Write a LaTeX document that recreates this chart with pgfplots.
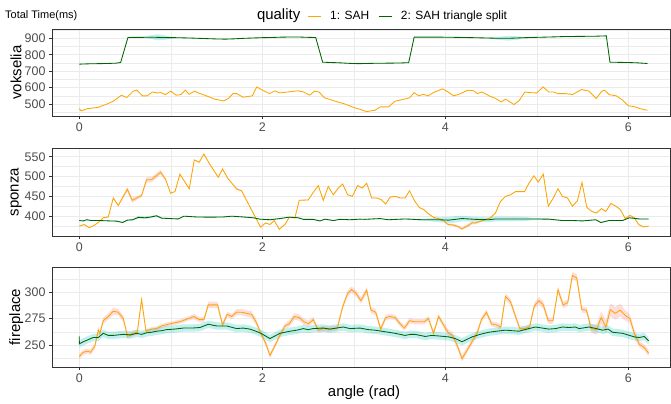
\documentclass[border=0pt]{standalone}
\usepackage{fontspec}
\setmainfont{Liberation Sans}
\usepackage{pgfplots}
\usepackage{pgfplotstable}
\pgfplotsset{compat=1.18}
\definecolor{sah}{HTML}{FFA500}
\definecolor{split}{HTML}{006400}
\definecolor{pinkrib}{HTML}{F8766D}
\definecolor{cyanrib}{HTML}{00BFC4}
\definecolor{gridc}{HTML}{EBEBEB}
\definecolor{tickc}{HTML}{4D4D4D}
\definecolor{borderc}{HTML}{333333}

% ---------- vokselia ----------
\pgfplotstableread{
x y d
0.00 471 0
0.02 457 0
0.09 471 0
0.20 478 0
0.29 496 0
0.37 516 0
0.46 553 0
0.52 539 0
0.59 578 0
0.63 584 0
0.69 549 0
0.74 549 0
0.80 573 0
0.85 567 0
0.89 569 0
0.94 557 0
1.00 578 0
1.06 553 0
1.11 557 0
1.16 584 0
1.20 559 0
1.26 578 0
1.32 563 0
1.39 549 0
1.48 529 0
1.58 518 0
1.63 533 0
1.68 563 0
1.72 563 0
1.79 541 0
1.89 549 0
1.94 604 0
2.00 584 0
2.08 563 0
2.14 580 0
2.19 567 0
2.28 573 0
2.39 580 0
2.45 573 0
2.52 553 0
2.57 578 0
2.62 573 0
2.68 537 0
2.73 529 0
2.80 516 0
2.90 500 0
3.01 476 0
3.08 465 0
3.14 453 0
3.23 461 0
3.29 482 0
3.38 482 0
3.45 516 0
3.55 529 0
3.61 537 0
3.66 569 0
3.71 549 0
3.76 559 0
3.81 549 0
3.87 569 0
3.97 592 0
4.03 573 0
4.09 549 0
4.14 557 0
4.25 584 0
4.31 580 0
4.35 563 0
4.40 573 0
4.48 549 0
4.55 533 0
4.61 512 0
4.66 529 0
4.75 496 0
4.81 522 0
4.87 573 0
4.92 569 0
5.00 567 0
5.07 604 0
5.13 573 0
5.18 573 0
5.23 563 0
5.31 563 0
5.39 557 0
5.49 588 0
5.57 578 0
5.65 533 0
5.71 578 0
5.74 584 0
5.79 557 0
5.87 549 0
5.94 522 0
6.00 488 0
6.06 484 0
6.13 471 0
6.21 461 0
}\vokA
\pgfplotstableread{
x y d
0.00 743 1
0.10 745 1
0.20 746 1
0.30 747 1
0.40 749 1
0.452 753 1
0.532 906 1
0.60 907 1
0.70 907 3
0.78 908 10
0.85 907 18
0.92 906 15
0.99 905 7
1.05 905 1
1.20 903 1
1.40 899 1
1.50 897 1
1.60 896 1
1.70 898 1
1.80 901 1
1.90 903 1
2.00 905 1
2.10 906 1
2.20 908 1
2.30 909 1
2.40 909 1
2.50 907 1
2.584 906 1
2.66 755 1
2.75 753 1
2.85 751 1
2.95 748 1
3.05 746 1
3.20 748 1
3.35 749 1
3.50 750 1
3.60 752 1
3.66 908 1
3.80 908 1
3.97 908 1
4.10 907 1
4.30 905 1
4.45 903 2
4.58 901 9
4.68 901 14
4.78 903 11
4.87 905 3
5.00 907 1
5.20 910 1
5.31 912 1
5.50 913 1
5.65 914 1
5.76 916 1
5.80 755 1
5.90 754 1
6.00 753 1
6.10 751 1
6.21 747 1
}\vokB

% ---------- sponza ----------
\pgfplotstableread{
x y d
0.000 375 1
0.055 379 1
0.109 371 1
0.164 377 1
0.219 386 1
0.262 396 1
0.317 398 1
0.372 446 1
0.426 427 2
0.525 468 6
0.579 440 6
0.681 452 4
0.736 492 7
0.790 492 7
0.889 511 6
0.944 493 3
0.998 458 1
1.046 462 1
1.100 506 1
1.202 469 1
1.257 542 1
1.311 536 1
1.362 557 1
1.421 533 1
1.519 498 1
1.566 519 1
1.621 496 1
1.719 469 2
1.774 464 2
1.982 372 1
2.036 383 1
2.084 379 1
2.131 389 1
2.186 367 1
2.248 379 1
2.295 397 1
2.357 396 1
2.404 440 1
2.503 441 1
2.557 460 1
2.612 477 1
2.667 440 1
2.721 475 1
2.776 454 1
2.831 471 1
2.878 481 1
2.933 454 1
2.984 450 1
3.042 477 2
3.093 471 1
3.141 483 1
3.196 446 1
3.250 446 1
3.298 442 1
3.349 431 1
3.397 448 1
3.452 450 1
3.506 446 1
3.561 446 1
3.609 464 1
3.664 439 1
3.715 422 1
3.762 417 1
3.817 406 1
3.872 397 1
3.927 394 1
3.982 389 2
4.029 379 2
4.084 378 3
4.128 375 3
4.183 368 3
4.238 375 4
4.293 383 4
4.336 383 3
4.395 388 2
4.446 392 1
4.494 396 1
4.548 408 1
4.603 437 1
4.658 450 1
4.713 454 1
4.768 462 1
4.815 462 1
4.867 462 1
4.914 483 1
4.969 502 1
5.016 486 1
5.071 506 1
5.126 425 1
5.181 446 1
5.232 469 1
5.280 450 1
5.335 446 1
5.390 425 1
5.444 439 1
5.494 485 1
5.547 422 1
5.601 412 1
5.653 408 1
5.707 419 1
5.755 412 1
5.810 432 1
5.865 425 1
5.912 417 1
5.967 394 1
6.018 402 1
6.066 396 1
6.113 379 1
6.165 373 1
6.223 375 1
}\spoA
\pgfplotstableread{
x y d
0.000 389 1
0.044 388 1
0.080 391 1
0.135 389 1
0.226 389 1
0.335 388 1
0.408 387.5 1
0.474 384 1
0.525 390 1
0.583 391 2
0.645 397 3
0.718 396 3
0.772 397.5 3
0.845 401 2
0.900 395 2
0.991 394 1
1.082 393 1
1.144 400 1
1.282 398 1
1.428 397.5 1
1.574 398 1
1.665 400 1
1.792 398 1
1.902 396 1
1.974 392.5 1
2.084 391 2
2.193 394 1
2.295 397.5 1
2.393 396 1
2.448 392 1
2.557 392 1
2.630 388 1
2.685 392.5 1
2.776 389 1
2.849 392 1
2.958 391 1
3.067 392.5 1
3.122 392 1
3.287 394 1
3.378 391 1
3.561 393 1
3.744 391 2
3.850 391 4
3.927 391 6
4.037 390 8
4.110 392 8
4.183 394 7
4.329 392 6
4.475 391 6
4.548 393 6
4.660 393 6
4.768 393 6
4.880 393 5
4.951 393 3
5.133 392.5 1
5.280 389 1
5.400 389 1
5.499 388 1
5.645 391 1
5.700 384 1
5.791 389 1
5.938 389 1
6.011 396 1
6.121 393 1
6.223 393 1
}\spoB

% ---------- fireplace ----------
\pgfplotstableread{
x y d
0.000 239 2.5
0.044 243 2.5
0.091 244 2.5
0.124 243 2.5
0.171 249 2.5
0.208 264 3
0.226 261 3
0.262 273 3
0.317 277 3
0.372 282 3.5
0.426 281 3
0.481 275 3
0.528 258 2.5
0.590 261 2.5
0.634 262 2.5
0.681 293 2
0.729 263 2
0.791 265 2
0.845 265.5 2
0.900 268 2
0.991 270 2
1.100 272 2
1.191 275 2
1.253 277 2.5
1.311 274 2.5
1.362 274 2.5
1.410 288 3
1.457 288 3
1.512 288 3
1.566 269 2.5
1.617 279 2.5
1.665 277 2.5
1.719 281 3
1.774 281 3
1.829 280 3
1.883 279 3.5
1.931 272 3
1.985 261 2.5
2.040 251 2.5
2.084 240 2.5
2.131 248 2.5
2.186 258 2.5
2.248 268 2.5
2.295 270 3
2.350 277 3
2.404 276 3
2.455 272 3
2.503 270 3
2.557 274 2.5
2.612 264 2.5
2.667 265.5 2.5
2.721 265 2.5
2.769 265.5 2.5
2.820 266 2.5
2.878 286 2.5
2.933 299 3
2.976 302.5 3
3.024 299 3
3.079 292 3
3.141 302 3
3.188 283 3
3.240 281 3
3.294 265 2.5
3.349 276 2.5
3.397 277 2.5
3.452 276 2.5
3.506 270 2.5
3.554 266 2.5
3.609 273 2.5
3.664 272 2.5
3.718 272 2.5
3.770 272 2.5
3.817 275 2.5
3.872 261 2.5
3.927 277 2.5
3.974 270 2.5
4.029 262 3
4.080 259 3
4.128 250 3
4.183 237 3
4.238 245 3
4.293 253 3
4.347 261 3
4.395 274 2.5
4.450 281 2.5
4.505 270 2.5
4.556 269 2.5
4.607 267 2.5
4.658 296 3
4.713 291 3
4.768 277 2.5
4.815 265.5 2.5
4.870 265.5 2.5
4.921 267 2.5
4.973 287 3
5.024 292 3.5
5.071 288 3.5
5.126 273 3
5.177 273 3
5.232 302.5 3
5.287 288 3
5.338 290 3
5.389 316 3.5
5.437 313.6 3.5
5.492 283.5 3
5.543 283 3
5.594 265.5 4
5.653 264.6 5
5.704 276 6
5.755 267 6
5.803 283.5 6
5.857 280 6
5.912 283 6
5.967 278 5
6.018 275 4
6.066 261 4
6.121 250.6 3
6.175 247.5 3
6.223 242 3
}\fireA
\pgfplotstableread{
x y d
0.000 258 3.5
0.001 251 3.5
0.044 253 3.5
0.098 255 3.5
0.153 257 3.5
0.208 257 3.5
0.262 261 3.5
0.317 259 3.5
0.372 259 3.5
0.426 259.5 3.5
0.481 260 3.5
0.560 259.5 3.5
0.627 261 3.5
0.680 260 3.5
0.736 261.5 3.5
0.790 262 3.5
0.845 263 3.5
0.900 263.5 3.5
0.954 264.5 3.5
1.040 265 3.5
1.137 266 3.5
1.230 266 3.5
1.319 266.5 3.5
1.410 269.6 3.5
1.501 268 3.5
1.610 268 3.5
1.720 265.5 3.5
1.790 266 3.5
1.865 265 3.5
1.930 263 3.5
1.985 261 3.5
2.084 256 3.5
2.193 261 3.5
2.302 263 3.5
2.380 264 3.5
2.448 265.5 3.5
2.500 264.5 3.5
2.557 265.5 3.5
2.667 266 3.5
2.740 265 3.5
2.812 266 3.5
2.885 267 3.5
2.958 265.5 3.5
3.067 266 3.5
3.159 264.5 3.5
3.230 264 3.5
3.305 263 3.5
3.380 262 3.5
3.452 261 3.5
3.561 259 3.5
3.620 260 3.5
3.671 260 3.5
3.781 258 3.5
3.850 259 3.5
3.927 258.5 3.5
4.037 257.6 3.5
4.110 256 3.5
4.183 253 3.5
4.293 257.6 3.5
4.380 260 3.5
4.475 262 3.5
4.560 263 3.5
4.658 264 3.5
4.730 263.5 3.5
4.804 263 3.5
4.914 265.5 3.5
4.987 267 3.5
5.060 266 3.5
5.130 265 3.5
5.207 265.5 3.5
5.280 267 3.5
5.353 266.5 3.5
5.420 267 3.5
5.463 265.5 3.5
5.572 267 3.5
5.650 265.5 3.5
5.718 264 3.5
5.780 265 3.5
5.828 262 3.5
5.938 261 3.5
6.066 257.6 3.5
6.121 257 3.5
6.175 258 3.5
6.223 253.8 3.5
}\fireB

% ribbon polygon: upper edge forward, lower edge backward
\newcommand\mkband[2]{%
  \pgfplotstablesort[sort key=x, sort cmp={float <}]{#2}{#1}%
  \pgfplotstablesort[sort key=x, sort cmp={float >}]{\tmpband}{#1}%
  \pgfplotstablecreatecol[expr={\thisrow{y}+\thisrow{d}}]{b}{#2}%
  \pgfplotstablecreatecol[expr={\thisrow{y}-\thisrow{d}}]{b}{\tmpband}%
  \pgfplotstablevertcat{#2}{\tmpband}%
}
\mkband{\vokB}{\vokBband}
\mkband{\spoA}{\spoAband}
\mkband{\spoB}{\spoBband}
\mkband{\fireA}{\fireAband}
\mkband{\fireB}{\fireBband}

\pgfplotsset{
  panel/.style={
    scale only axis, width=618bp, anchor=south west,
    xmin=-0.298, xmax=6.456,
    xtick={0,2,4,6}, minor xtick={1,3,5},
    xtick pos=bottom, ytick pos=left,
    grid=both,
    major grid style={draw=gridc, line width=0.7bp},
    minor grid style={draw=gridc, line width=0.4bp},
    axis line style={draw=borderc, line width=0.7bp},
    major tick style={draw=borderc, line width=0.7bp},
    tick align=outside, major tick length=3bp, minor tick length=0pt,
    ticklabel style={font=\fontsize{12.5}{12.5}\selectfont, text=tickc},
    /pgf/number format/assume math mode=true,
    every axis y label/.style={at={(axis description cs:-0.058,0.5)}, rotate=90, anchor=center,
      font=\fontsize{15}{15}\selectfont},
    clip mode=individual,
  },
  orng/.style={draw=sah, line width=0.85bp},
  grn/.style={draw=split, line width=0.85bp},
  pinkband/.style={fill=pinkrib, fill opacity=0.24, draw=none, forget plot},
  cyanband/.style={fill=cyanrib, fill opacity=0.24, draw=none, forget plot},
}

\begin{document}
\begin{tikzpicture}
\useasboundingbox (0,0) rectangle (671bp,404bp);

% ---------- vokselia ----------
\begin{axis}[panel, at={(52bp,288bp)}, height=87bp,
  ymin=426, ymax=958, ytick={500,600,700,800,900}, minor ytick={450,550,650,750,850,950},
  ylabel={vokselia},
  legend style={draw=none, fill=none, at={(axis description cs:0.408,1.149)}, anchor=west,
    font=\fontsize{12}{12}\selectfont, legend columns=-1,
    /tikz/every odd column/.append style={column sep=7bp},
    /tikz/every even column/.append style={column sep=7bp}},
  legend image code/.code={\draw[#1] (0bp,0bp) -- (13bp,0bp);},
]
\addplot[cyanband] table[x=x, y=b] {\vokBband};
\addplot[orng] table[x=x, y=y] {\vokA};
\addlegendentry{1: SAH}
\addplot[grn] table[x=x, y=y] {\vokB};
\addlegendentry{2: SAH triangle split}
\node[anchor=west, font=\fontsize{15}{15}\selectfont, inner sep=0pt] at (axis description cs:0.3315,1.149) {quality};
\node[anchor=west, font=\fontsize{11}{11}\selectfont, inner sep=0pt] at (axis description cs:-0.076,1.149) {Total Time(ms)};
\end{axis}

% ---------- sponza ----------
\begin{axis}[panel, at={(52bp,168bp)}, height=88bp,
  ymin=350, ymax=572, ytick={400,450,500,550}, minor ytick={375,425,475,525},
  ylabel={sponza},
]
\addplot[pinkband] table[x=x, y=b] {\spoAband};
\addplot[cyanband] table[x=x, y=b] {\spoBband};
\addplot[orng] table[x=x, y=y] {\spoA};
\addplot[grn] table[x=x, y=y] {\spoB};
\end{axis}

% ---------- fireplace ----------
\begin{axis}[panel, at={(52bp,37bp)}, height=100bp,
  ymin=229, ymax=324, ytick={250,275,300}, minor ytick={237.5,262.5,287.5,312.5},
  ylabel={fireplace},
  xlabel={angle (rad)},
  every axis x label/.style={at={(axis description cs:0.505,-0.26)}, anchor=center,
    font=\fontsize{15}{15}\selectfont},
]
\addplot[pinkband] table[x=x, y=b] {\fireAband};
\addplot[cyanband] table[x=x, y=b] {\fireBband};
\addplot[orng] table[x=x, y=y] {\fireA};
\addplot[grn] table[x=x, y=y] {\fireB};
\end{axis}
\end{tikzpicture}
\end{document}
